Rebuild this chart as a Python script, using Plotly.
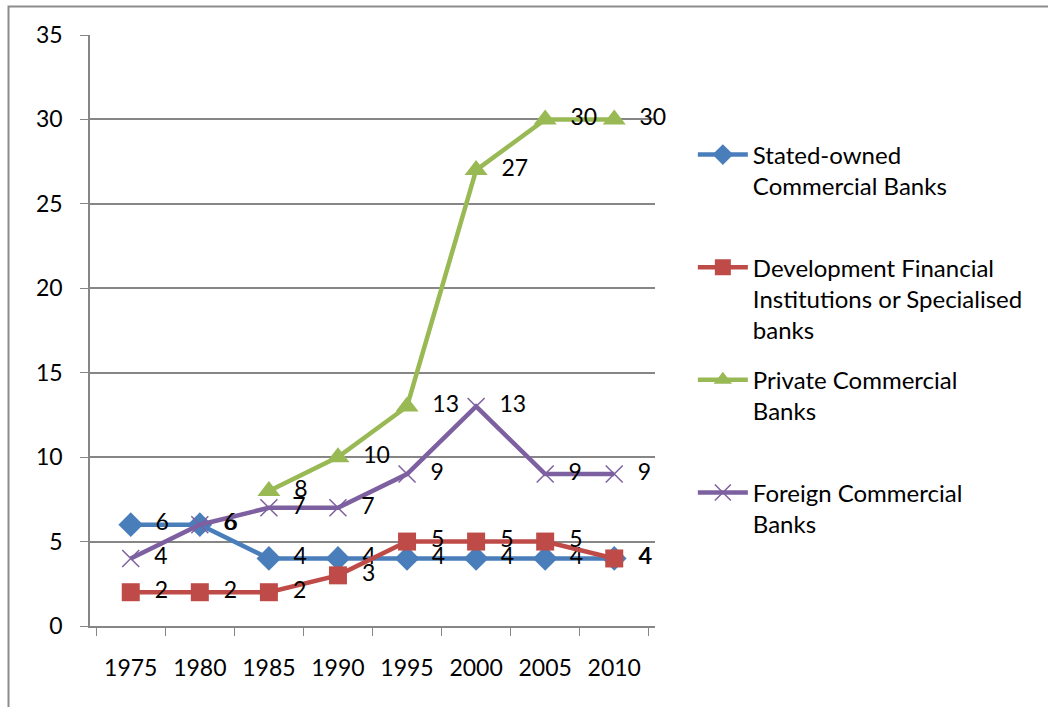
import plotly.graph_objects as go

years = ["1975", "1980", "1985", "1990", "1995", "2000", "2005", "2010"]
state_owned = [6, 6, 4, 4, 4, 4, 4, 4]
development = [2, 2, 2, 3, 5, 5, 5, 4]
private = [None, None, 8, 10, 13, 27, 30, 30]
foreign = [4, 6, 7, 7, 9, 13, 9, 9]

names = [
    "Stated-owned<br>Commercial Banks<br> ",
    "Development Financial<br>Institutions or Specialised<br>banks",
    "Private Commercial<br>Banks<br> ",
    "Foreign Commercial<br>Banks",
]

FONT = "Lato"
fig = go.Figure()

series = [
    (state_owned, names[0], "#4A7EBB", dict(symbol="diamond", size=19)),
    (development, names[1], "#BE4B48", dict(symbol="square", size=18)),
    (private, names[2], "#98B954", dict(symbol="triangle-up", size=20)),
    (foreign, names[3], "#7D60A0", dict(symbol="x-thin", size=17, line=dict(width=1.5, color="#7D60A0"))),
]

for i, (vals, name, color, mk) in enumerate(series):
    fig.add_trace(go.Scatter(
        x=years, y=vals, name=name, legendgroup=f"g{i}",
        mode="lines+markers+text",
        line=dict(color=color, width=4.5),
        marker=dict(color=color, **mk),
        text=[("" if v is None else "  " + str(v)) for v in vals],
        textposition="middle right",
        textfont=dict(family=FONT, size=23, color="black"),
        connectgaps=False,
        cliponaxis=False,
    ))

fig.update_layout(
    width=1048, height=707,
    margin=dict(l=90, r=393, t=35, b=81, autoexpand=False),
    paper_bgcolor="white", plot_bgcolor="white",
    font=dict(family=FONT, size=23, color="black"),
    showlegend=True,
    legend=dict(
        x=1.067, y=0.835, xanchor="left", yanchor="top",
        valign="top", font=dict(family=FONT, size=24, color="black"),
        itemwidth=50, tracegroupgap=16,
        bgcolor="rgba(0,0,0,0)",
    ),
    shapes=[dict(
        type="rect", xref="paper", yref="paper",
        x0=(8.5 - 90) / 565, x1=(1080 - 90) / 565,
        y0=-0.3, y1=(626 - 6.5) / 591,
        line=dict(color="#8C8C8C", width=2), layer="below",
    )],
)

fig.update_xaxes(
    type="category", tickson="boundaries", ticks="outside", ticklen=8,
    tickcolor="#868686", showline=True, linecolor="#868686", linewidth=1.5,
    showgrid=False, ticklabelstandoff=21, automargin=False,
    tickfont=dict(family=FONT, size=23, color="black"),
)
fig.update_yaxes(
    range=[0, 35], dtick=5, ticks="outside", ticklen=8, tickcolor="#868686",
    showline=True, linecolor="#868686", linewidth=1.5,
    showgrid=True, gridcolor="#868686", gridwidth=1.5, zeroline=False,
    ticklabelstandoff=13, automargin=False,
    tickfont=dict(family=FONT, size=23, color="black"),
)

fig.write_html("out.html")
